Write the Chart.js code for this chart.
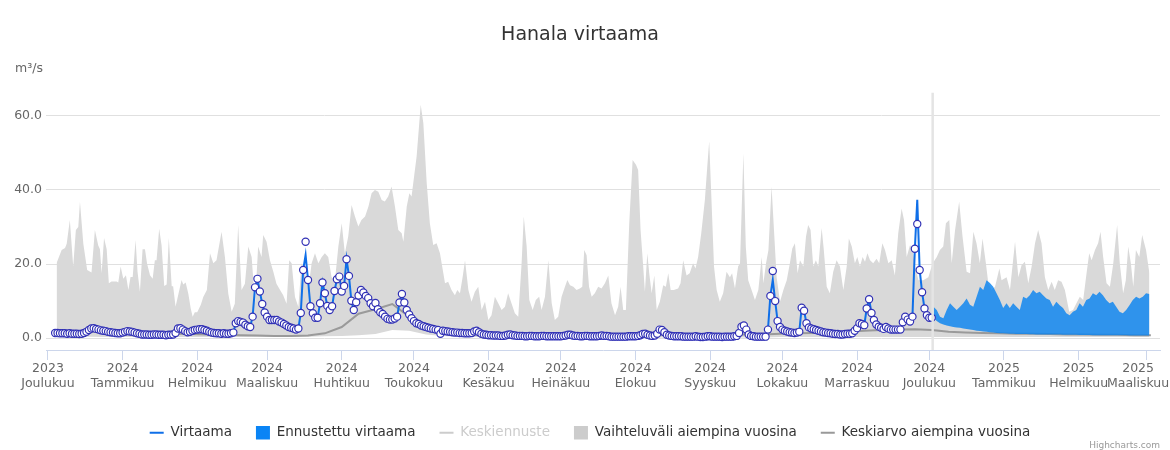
<!DOCTYPE html>
<html lang="fi">
<head>
<meta charset="utf-8">
<title>Hanala virtaama</title>
<script src="https://cdn.jsdelivr.net/npm/chart.js@4.4.1/dist/chart.umd.min.js"></script>
<style>
  html, body { margin: 0; padding: 0; background: #fff; }
  #wrap { width: 1170px; height: 450px; }
</style>
</head>
<body>
<div id="wrap"><canvas id="flowChart" width="1170" height="450"></canvas></div>
<script>
/* Hanala virtaama - observed flow, forecast and earlier years' range.
   x values are days counted from 1 Dec 2023 (day 0). */

const MONTH_TICK_DAYS = [0, 31, 62, 91, 122, 152, 183, 213, 244, 275, 305, 336, 366, 397, 428, 456];
const MONTH_TICK_YEARS = ['2023', '2024', '2024', '2024', '2024', '2024', '2024', '2024', '2024', '2024', '2024', '2024', '2024', '2025', '2025', '2025'];
const MONTH_TICK_NAMES = ['Joulukuu', 'Tammikuu', 'Helmikuu', 'Maaliskuu', 'Huhtikuu', 'Toukokuu', 'Kesäkuu', 'Heinäkuu', 'Elokuu', 'Syyskuu', 'Lokakuu', 'Marraskuu', 'Joulukuu', 'Tammikuu', 'Helmikuu', 'Maaliskuu'];
const Y_TICKS = [0, 20, 40, 60];
const TODAY_DAY = 367.4;

// Virtaama, daily from day 3
const FLOW_START_DAY = 3;
const FLOW = [
  1.4, 1.4, 1.3, 1.3, 1.3, 1.2, 1.3, 1.2, 1.2, 1.2,
  1.1, 1.2, 1.4, 1.7, 2.2, 2.6, 2.7, 2.5, 2.3, 2.1,
  2.0, 1.9, 1.7, 1.6, 1.5, 1.4, 1.3, 1.3, 1.5, 1.7,
  1.9, 1.8, 1.7, 1.5, 1.3, 1.2, 1.0, 1.0, 1.0, 0.9,
  0.9, 1.0, 1.0, 0.9, 0.9, 0.9, 0.8, 0.9, 0.9, 1.0,
  1.4, 2.6, 2.7, 2.3, 1.9, 1.6, 1.7, 2.0, 2.2, 2.3,
  2.4, 2.4, 2.2, 2.0, 1.7, 1.5, 1.4, 1.3, 1.3, 1.2,
  1.3, 1.2, 1.2, 1.3, 1.5, 4.0, 4.6, 4.4, 4.2, 3.6,
  3.2, 3.0, 5.8, 13.7, 16.0, 12.6, 9.2, 6.9, 5.8, 4.9,
  4.9, 4.9, 4.9, 4.5, 4.2, 3.8, 3.4, 3.0, 2.8, 2.6,
  2.3, 2.6, 6.8, 18.4, 26.0, 15.7, 8.6, 6.7, 5.5, 5.5,
  9.4, 15.0, 12.1, 8.7, 7.6, 8.6, 12.7, 15.9, 16.6, 12.6,
  14.1, 21.3, 16.8, 10.1, 7.6, 9.7, 11.5, 13.0, 12.3, 11.4,
  10.8, 9.4, 8.6, 9.5, 7.8, 7.0, 6.5, 5.8, 5.2, 5.0,
  5.0, 5.3, 5.8, 9.6, 11.9, 9.6, 7.6, 6.4, 5.4, 4.6,
  4.0, 3.8, 3.4, 3.2, 3.0, 2.8, 2.6, 2.5, 2.3, 2.2,
  1.2, 2.0, 1.9, 1.8, 1.7, 1.6, 1.5, 1.5, 1.4, 1.4,
  1.3, 1.3, 1.3, 1.4, 1.8, 2.0, 1.6, 1.2, 1.0, 0.9,
  0.8, 0.8, 0.7, 0.7, 0.7, 0.6, 0.6, 0.7, 0.9, 1.0,
  0.8, 0.7, 0.6, 0.6, 0.6, 0.5, 0.5, 0.6, 0.6, 0.5,
  0.5, 0.5, 0.6, 0.6, 0.5, 0.5, 0.5, 0.5, 0.5, 0.5,
  0.5, 0.6, 0.7, 0.9, 0.9, 0.7, 0.6, 0.6, 0.5, 0.5,
  0.6, 0.6, 0.5, 0.5, 0.5, 0.5, 0.6, 0.7, 0.6, 0.6,
  0.5, 0.4, 0.4, 0.4, 0.4, 0.4, 0.4, 0.4, 0.5, 0.5,
  0.5, 0.5, 0.6, 0.8, 1.1, 1.2, 0.9, 0.7, 0.6, 0.7,
  1.2, 2.3, 2.2, 1.6, 0.9, 0.7, 0.6, 0.5, 0.5, 0.5,
  0.5, 0.4, 0.4, 0.4, 0.4, 0.4, 0.5, 0.4, 0.3, 0.3,
  0.4, 0.5, 0.5, 0.4, 0.4, 0.4, 0.4, 0.3, 0.4, 0.4,
  0.4, 0.4, 0.5, 0.6, 1.4, 3.1, 3.4, 2.3, 1.0, 0.6,
  0.5, 0.4, 0.4, 0.4, 0.4, 0.4, 2.3, 11.4, 18.1, 10.0,
  4.6, 3.0, 2.3, 2.0, 1.8, 1.6, 1.5, 1.4, 1.5, 1.7,
  8.2, 7.4, 4.0, 2.9, 2.6, 2.4, 2.2, 2.0, 1.8, 1.6,
  1.5, 1.4, 1.3, 1.2, 1.1, 1.1, 1.0, 1.0, 1.1, 1.2,
  1.2, 1.3, 2.0, 2.7, 4.0, 3.8, 3.5, 8.0, 10.5, 6.8,
  4.9, 3.7, 3.1, 2.8, 2.5, 3.0, 2.6, 2.3, 2.3, 2.3,
  2.3, 2.3, 4.3, 5.8, 5.0, 4.5, 5.8, 24.1, 30.8, 18.4,
  12.4, 8.0, 6.2, 5.5, 5.5
];
// the line peaks between daily readings on these days
const FLOW_PEAK_DAYS = [107, 301, 361];
const FLOW_PEAK_VALUES = [22.4, 15.7, 37.3];

// Ennustettu virtaama (range), every 1.38 days from day 367.7
const FORECAST_START_DAY = 367.7;
const FORECAST_STEP = 1.38;
const FORECAST_UPPER = [
  8.5, 7.6, 5.8, 5.4, 7.6, 9.4, 8.5, 7.6, 8.5, 9.4,
  10.7, 9.0, 8.5, 11.2, 13.9, 13.0, 15.6, 14.9, 13.9, 12.1,
  10.3, 8.1, 9.4, 8.1, 9.4, 8.5, 7.6, 11.2, 10.7, 11.6,
  13.0, 12.1, 12.5, 11.6, 10.7, 10.3, 8.5, 9.8, 8.9, 8.1,
  6.7, 6.2, 7.1, 7.6, 9.4, 8.5, 10.3, 10.7, 12.1, 11.6,
  12.5, 11.6, 10.3, 9.4, 9.8, 8.5, 7.1, 6.7, 7.6, 8.9,
  10.3, 11.2, 10.7, 11.2, 12.1, 11.9
];
const FORECAST_LOWER = [
  5.5, 4.6, 4.0, 3.7, 3.4, 3.2, 3.0, 2.9, 2.8, 2.6,
  2.5, 2.3, 2.2, 2.0, 1.9, 1.8, 1.7, 1.6, 1.5, 1.4,
  1.35, 1.3, 1.25, 1.2, 1.2, 1.15, 1.1, 1.1, 1.1, 1.05,
  1.05, 1.0, 1.0, 1.0, 1.0, 0.95, 0.95, 0.95, 0.95, 0.9,
  0.9, 0.9, 0.9, 0.9, 0.85, 0.85, 0.85, 0.85, 0.8, 0.8,
  0.8, 0.8, 0.8, 0.8, 0.75, 0.75, 0.75, 0.75, 0.75, 0.7,
  0.7, 0.7, 0.7, 0.7, 0.7, 0.7
];

// Vaihteluväli aiempina vuosina - upper edge, read point by point
const RANGE_MAX_DAYS = [
  3.6, 5.7, 7.1, 7.8, 9.1, 10.5, 11.6, 12.6, 13.3, 14.7, 16.3, 18.1, 19.5, 20.9, 21.6, 22.3, 23.3, 24.4, 25.3, 26.4,
  28.5, 29.2, 30.2, 31.3, 32.4, 33.4, 34.3, 35.2, 36.4, 37.2, 38.2, 39.3, 40.3, 41.2, 42.4, 43.5, 44.4, 45.1, 46.2, 47.2,
  48.3, 49.3, 50.2, 51.4, 52.0, 53.0, 55.5, 56.2, 57.2, 58.3, 59.3, 60.1, 61.0, 62.0,
  63.5, 64.5, 66.0, 67.3, 68.7, 70.0, 72.1, 73.5, 74.9, 76.3, 77.6, 79.0, 80.4, 81.8, 83.2, 84.6, 86.0, 87.3, 88.7, 89.4,
  90.8, 92.2, 93.6, 94.9, 96.4, 97.7, 99.1, 100.2, 101.2, 102.6, 104.0, 105.3, 106.7, 108.1, 109.5, 110.9, 112.3, 113.7, 115.0, 116.4,
  117.8, 119.2, 120.6, 122.0, 123.3, 124.7, 126.1, 127.5, 128.9, 130.2, 131.7, 133.1, 134.4, 135.8, 137.2,
  138.6, 139.9, 141.3, 142.7, 144.1, 145.5, 146.9, 147.6, 149.0, 150.1, 151.0, 153.1, 154.8, 155.9, 157.3, 158.6, 160.0, 161.4, 162.8, 163.5,
  164.9, 166.2, 167.6, 169.0, 170.0, 171.1, 172.2, 173.2, 174.6, 175.9, 177.3, 178.7, 180.1, 181.5, 182.9, 184.2, 185.6, 187.0, 188.4, 189.8,
  191.1, 192.5, 193.9, 195.3, 196.7, 197.6, 198.8, 199.9, 201.3, 202.6, 204.0, 205.0, 206.4, 207.8, 209.2,
  210.5, 211.9, 213.3, 214.7, 215.7, 216.8, 218.2, 219.5, 220.9, 221.9, 222.7, 223.7, 224.7, 225.8, 227.1, 228.5, 229.9, 231.3, 232.7, 234.0,
  235.5, 236.8, 237.8, 238.9, 240.0, 241.4, 242.8, 244.2, 245.1, 246.1, 247.2, 247.9, 248.9, 249.7, 250.7, 251.8, 252.8, 254.1, 255.5, 256.6,
  257.6, 258.6, 259.9, 261.7, 262.7, 263.8, 265.2, 266.5, 267.9, 268.9, 270.0, 271.3, 272.8, 273.8, 274.6, 275.6, 276.6, 277.7, 279.0, 280.4,
  281.8, 283.2, 284.1, 285.3,
  286.6, 287.4, 288.8, 289.8, 290.8, 292.2, 293.6, 295.0, 296.4, 297.1, 298.2, 299.2, 300.5, 301.5, 302.6, 304.0, 305.4, 306.8, 308.1, 309.1,
  310.2, 311.3, 312.3, 313.7, 314.8, 315.7, 316.7, 317.8, 318.9, 319.9, 321.3, 322.2, 323.4, 324.7, 326.1, 327.5, 328.9, 330.3, 331.7, 332.6,
  333.8, 335.1, 336.1, 337.2, 338.3, 339.3, 340.3, 341.4, 342.7, 344.1, 345.2, 346.5, 347.6, 349.0, 350.4, 351.7, 353.1, 354.5, 355.5, 356.6,
  358.0, 359.1, 360.1, 361.5,
  363.5, 365.6, 367.4, 369.1, 370.4, 371.8, 372.9, 374.3, 375.3, 376.7, 378.4, 379.8, 381.5, 382.9, 384.3, 385.6, 387.0, 388.1, 389.5, 390.5,
  391.9, 393.3, 395.1, 396.0, 398.1, 399.5, 401.6, 403.0, 404.3, 405.7, 407.1, 408.5, 409.9, 411.2, 412.6, 414.0, 415.4, 416.8, 418.1, 419.5,
  420.9, 422.3, 424.1, 425.7, 427.1, 428.5, 429.9, 431.3, 432.4, 433.4, 434.8, 436.1, 437.1, 438.2, 439.6, 441.0, 442.4, 444.0, 445.1, 446.5,
  447.6, 448.6, 449.7, 450.7, 451.8, 453.2, 454.4, 456.0, 457.4
];
const RANGE_MAX = [
  20.3, 23.8, 24.3, 25.5, 31.9, 19.3, 29.2, 30.0, 36.8, 25.5, 18.4, 17.7, 29.2, 25.0, 24.0, 17.5, 27.0, 24.0, 14.8, 15.3,
  15.3, 15.0, 19.3, 16.0, 17.0, 13.0, 16.5, 16.5, 26.5, 18.0, 12.5, 24.0, 24.0, 20.0, 17.0, 16.0, 21.0, 21.0, 29.5, 25.0,
  14.1, 14.5, 27.0, 14.0, 14.0, 8.5, 15.7, 14.5, 15.0, 12.0, 8.0, 5.8, 7.0, 7.0,
  9.0, 11.1, 13.0, 22.9, 20.2, 21.0, 28.7, 21.9, 12.0, 7.1, 9.3, 30.5, 13.0, 14.7, 24.7, 21.9, 9.3, 24.7, 21.9, 27.8,
  26.0, 21.0, 17.9, 14.7, 13.0, 11.6, 9.3, 21.0, 20.2, 11.1, 8.4, 20.2, 17.9, 13.0, 20.2, 22.9, 20.2, 21.9, 22.9, 21.9,
  16.4, 15.6, 24.7, 31.0, 22.9, 27.4, 35.9, 32.8, 30.1, 31.9, 32.8, 35.5, 39.1, 40.0, 39.5,
  37.3, 36.9, 38.2, 40.9, 35.5, 29.2, 28.3, 26.0, 35.5, 39.1, 38.2, 49.0, 63.0, 58.0, 41.8, 31.0, 25.1, 25.6, 22.9, 20.2,
  14.8, 15.2, 13.0, 11.6, 13.0, 12.1, 16.4, 21.0, 13.0, 9.8, 12.5, 13.9, 7.6, 9.8, 4.9, 6.2, 11.2, 9.4, 7.6, 8.5,
  12.1, 9.4, 6.7, 5.8, 20.2, 32.8, 24.7, 10.3, 7.6, 10.3, 11.2, 7.6, 11.2, 21.0, 9.4,
  4.9, 5.8, 11.2, 13.9, 15.7, 14.3, 13.9, 13.0, 13.4, 13.9, 23.8, 22.4, 13.9, 11.2, 12.1, 13.9, 13.4, 14.8, 16.9, 9.4,
  6.2, 8.5, 13.9, 7.6, 7.6, 31.0, 48.1, 46.8, 45.4, 29.2, 19.3, 12.5, 22.9, 17.5, 12.1, 16.9, 7.6, 9.8, 14.3, 13.9,
  17.5, 13.0, 13.0, 13.4, 14.8, 21.0, 16.9, 17.5, 20.2, 18.8, 21.9, 28.3, 37.3, 46.3, 53.1, 36.4, 19.3, 13.0, 9.8, 12.1,
  17.9, 16.4, 17.5, 13.4,
  19.3, 20.2, 49.9, 24.7, 15.6, 13.0, 10.3, 13.0, 21.9, 14.8, 20.2, 23.8, 40.9, 29.2, 16.4, 9.8, 13.0, 15.6, 20.2, 24.2,
  25.6, 17.5, 21.0, 19.3, 27.4, 30.5, 29.2, 19.3, 21.0, 19.3, 29.7, 23.8, 13.9, 12.1, 17.9, 21.0, 19.3, 13.0, 19.3, 26.9,
  24.7, 20.2, 21.9, 19.3, 21.9, 20.6, 22.9, 21.0, 20.2, 21.4, 20.2, 25.6, 23.8, 20.2, 21.0, 16.9, 28.3, 35.0, 31.9, 21.9,
  25.1, 23.8, 19.3, 15.6,
  15.6, 16.4, 20.2, 21.9, 23.8, 24.7, 31.0, 31.9, 20.2, 29.2, 36.8, 27.4, 17.9, 17.5, 28.7, 25.6, 20.2, 26.9, 20.2, 14.8,
  13.0, 13.9, 18.8, 15.6, 16.4, 13.0, 26.0, 16.4, 19.7, 20.6, 14.8, 19.3, 25.6, 29.2, 25.6, 16.4, 13.0, 15.2, 13.0, 15.6,
  15.2, 13.0, 7.1, 7.6, 9.4, 11.2, 10.3, 17.5, 22.9, 21.0, 23.8, 25.6, 28.7, 21.9, 14.8, 13.9, 20.2, 30.5, 20.2, 12.1,
  15.6, 24.7, 20.2, 13.9, 23.8, 21.9, 27.8, 23.8, 17.5
];

// earlier years: lower edge and mean, weekly from day 3
const HISTORY_START_DAY = 3;
const HISTORY_STEP = 7;
const RANGE_MIN = [
  0.4, 0.4, 0.4, 0.3, 0.3, 0.3, 0.3, 0.3, 0.3, 0.3,
  0.3, 0.3, 0.3, 0.3, 0.3, 0.4, 0.5, 0.6, 0.8, 1.1,
  2.2, 2.0, 1.0, 0.6, 0.4, 0.3, 0.2, 0.2, 0.2, 0.2,
  0.2, 0.2, 0.2, 0.2, 0.2, 0.2, 0.2, 0.2, 0.2, 0.2,
  0.2, 0.2, 0.2, 0.3, 0.3, 0.3, 0.3, 0.3, 0.3, 0.3,
  0.3, 0.3, 0.3, 0.3, 0.3, 0.3, 0.3, 0.3, 0.3, 0.3,
  0.3, 0.3, 0.3, 0.3, 0.3, 0.3
];
const HISTORY_MEAN = [
  2.0, 1.9, 1.8, 1.7, 1.5, 1.4, 1.3, 1.2, 1.1, 1.0,
  0.9, 0.8, 0.7, 0.6, 0.6, 0.7, 1.3, 3.0, 6.6, 7.8,
  9.2, 5.8, 3.6, 2.4, 1.7, 1.3, 1.1, 1.0, 0.9, 0.8,
  0.8, 0.7, 0.7, 0.7, 0.7, 0.8, 0.9, 0.8, 0.8, 0.8,
  0.9, 1.0, 1.0, 1.2, 1.3, 1.4, 1.5, 1.7, 2.0, 2.2,
  2.3, 2.4, 2.2, 1.7, 1.5, 1.4, 1.3, 1.2, 1.2, 1.1,
  1.0, 1.0, 0.9, 0.9, 0.8, 0.8
];

const FLOW_COLOR = '#0f6fe8';
const MARKER_BORDER = '#3131b5';
const FORECAST_COLOR = 'rgba(10, 132, 240, 0.82)';
const RANGE_COLOR = '#d9d9d9';
const MEAN_COLOR = '#9a9a9a';

document.addEventListener('DOMContentLoaded', () => {
  Chart.defaults.font.family = '"DejaVu Sans", "Lucida Grande", Verdana, sans-serif';
  Chart.defaults.color = '#666666';
  renderFlowChart();
});

function toPoints(values, dayAt) {
  return values.map((v, i) => ({ x: dayAt(i), y: v }));
}

function renderFlowChart() {
  const flowPoints = toPoints(FLOW, i => FLOW_START_DAY + i);
  const flowLine = flowPoints.map(p => {
    const k = FLOW_PEAK_DAYS.indexOf(p.x);
    return k === -1 ? p : { x: p.x, y: FLOW_PEAK_VALUES[k] };
  });
  const forecastDay = i => FORECAST_START_DAY + i * FORECAST_STEP;
  const historyDay = i => HISTORY_START_DAY + i * HISTORY_STEP;
  const none = 'rgba(0,0,0,0)';

  // legend entries in the original order, with their symbols
  const legendStyle = {
    1: { pointStyle: 'line', color: FLOW_COLOR, lineWidth: 2, font: '#333333' },
    2: { pointStyle: 'rect', color: '#0a84f5', lineWidth: 0, font: '#333333' },
    4: { pointStyle: 'line', color: '#cccccc', lineWidth: 2, font: '#cccccc' },
    6: { pointStyle: 'rect', color: '#cccccc', lineWidth: 0, font: '#333333' },
    5: { pointStyle: 'line', color: '#999999', lineWidth: 2, font: '#333333' }
  };

  const extras = {
    id: 'extras',
    beforeDraw(chart) {
      // legend sits a little right of the canvas centre in the original
      const lg = chart.legend;
      if (lg && !lg._shifted) { lg.left += 10; lg.right += 10; lg._shifted = true; }
    },
    afterDatasetsDraw(chart) {
      const { ctx, chartArea, scales } = chart;
      const x = scales.x.getPixelForValue(TODAY_DAY);
      ctx.save();
      ctx.strokeStyle = '#e4e4e4';
      ctx.lineWidth = 2.5;
      ctx.beginPath();
      ctx.moveTo(x, chartArea.top);
      ctx.lineTo(x, chartArea.bottom);
      ctx.stroke();
      ctx.restore();
    },
    afterDraw(chart) {
      const ctx = chart.ctx;
      ctx.save();
      ctx.textBaseline = 'middle';
      ctx.fillStyle = '#666666';
      ctx.font = '12.5px "DejaVu Sans"';
      ctx.textAlign = 'left';
      ctx.fillText('m³/s', 15, 69);
      ctx.fillStyle = '#999999';
      ctx.font = '9px "DejaVu Sans"';
      ctx.textAlign = 'right';
      ctx.fillText('Highcharts.com', 1160, 446);
      ctx.restore();
    }
  };

  new Chart(document.getElementById('flowChart'), {
    type: 'line',
    data: {
      datasets: [
        { label: 'Virtaama', data: flowPoints, showLine: false, pointRadius: 3.6, pointBackgroundColor: '#ffffff',
          pointBorderColor: MARKER_BORDER, pointBorderWidth: 1.2 },
        { label: 'Virtaama', data: flowLine, borderColor: FLOW_COLOR, borderWidth: 2, pointRadius: 0, tension: 0 },
        { label: 'Ennustettu virtaama', data: toPoints(FORECAST_UPPER, forecastDay), borderColor: none, borderWidth: 1,
          backgroundColor: FORECAST_COLOR, pointRadius: 0, fill: '+1' },
        { label: 'forecast low', data: toPoints(FORECAST_LOWER, forecastDay), borderColor: none, borderWidth: 1, pointRadius: 0 },
        { label: 'Keskiennuste', data: [], hidden: true, borderColor: '#cccccc', pointRadius: 0 },
        { label: 'Keskiarvo aiempina vuosina', data: toPoints(HISTORY_MEAN, historyDay), borderColor: MEAN_COLOR, borderWidth: 2, pointRadius: 0 },
        { label: 'Vaihteluväli aiempina vuosina', data: RANGE_MAX.map((v, i) => ({ x: RANGE_MAX_DAYS[i], y: v })),
          borderColor: none, borderWidth: 1, backgroundColor: RANGE_COLOR, pointRadius: 0, fill: '+1' },
        { label: 'range low', data: toPoints(RANGE_MIN, historyDay), borderColor: none, borderWidth: 1, pointRadius: 0 }
      ]
    },
    options: {
      responsive: false,
      animation: false,
      events: [],
      devicePixelRatio: 1,
      layout: { padding: { left: 0, right: 10, top: 0, bottom: 0.5 } },
      plugins: {
        title: {
          display: true, text: 'Hanala virtaama', color: '#333333',
          font: { size: 19, weight: 'normal' }, padding: { top: 24, bottom: 46 }
        },
        legend: {
          position: 'bottom',
          onClick: () => {},
          labels: {
            usePointStyle: true, pointStyleWidth: 14, padding: 24, color: '#333333', font: { size: 13.5 },
            generateLabels: chart => [1, 2, 4, 6, 5].map(i => {
              const s = legendStyle[i];
              return {
                text: chart.data.datasets[i].label, datasetIndex: i, hidden: false,
                pointStyle: s.pointStyle, fillStyle: s.color, strokeStyle: s.color,
                lineWidth: s.lineWidth, fontColor: s.font
              };
            })
          }
        },
        tooltip: { enabled: false }
      },
      scales: {
        x: {
          type: 'linear', min: -0.8, max: 461.8,
          afterBuildTicks: s => { s.ticks = MONTH_TICK_DAYS.map(v => ({ value: v })); },
          afterFit: s => { s.height = 52; s.paddingLeft = 0; s.paddingRight = 0; },
          ticks: {
            autoSkip: false, maxRotation: 0, minRotation: 0, padding: 1, color: '#666666', font: { size: 12.5 },
            callback: (value, index) => {
              // last label is pulled left so it stays inside the canvas
              const pad = index === MONTH_TICK_DAYS.length - 1 ? '\u00a0\u00a0\u00a0\u00a0' : '';
              return [MONTH_TICK_YEARS[index] + pad, MONTH_TICK_NAMES[index] + pad];
            }
          },
          grid: { drawOnChartArea: false, drawTicks: true, tickLength: 10, color: '#ccd6eb', tickColor: '#ccd6eb' },
          border: { display: true, color: '#ccd6eb', width: 1 }
        },
        y: {
          min: -3.2, max: 66.2,
          afterBuildTicks: s => { s.ticks = Y_TICKS.map(v => ({ value: v })); },
          afterFit: s => { s.width = 46; },
          ticks: { padding: 4, color: '#666666', font: { size: 12.5 }, callback: v => v.toFixed(1) },
          grid: { color: '#e0e0e0', lineWidth: 1, drawTicks: false },
          border: { display: false }
        }
      }
    },
    plugins: [extras]
  });
}
</script>
</body>
</html>
